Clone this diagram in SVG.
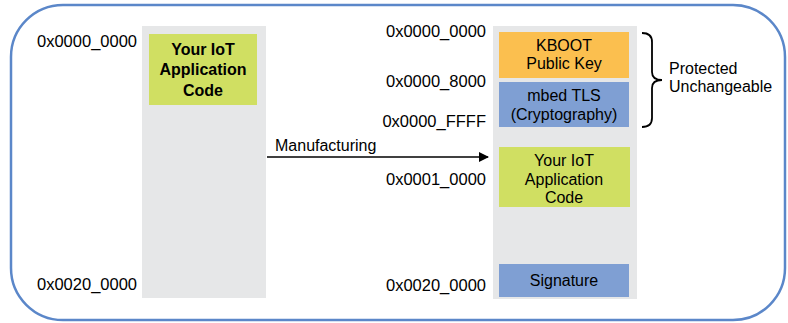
<svg xmlns="http://www.w3.org/2000/svg" width="788" height="323" viewBox="0 0 788 323">
<style>
text{font-family:"Liberation Sans",Arial,sans-serif;font-size:16px;fill:#000}
.b{font-weight:bold;font-size:16px}
.m{text-anchor:middle}
.e{text-anchor:end}
.h{font-size:16.5px}
.col{fill:#e6e7e8}
.green{fill:#d0df62}
.orange{fill:#fbbf4f}
.blue{fill:#7f9fd3}
</style>
<defs>
<marker id="arr" markerWidth="10" markerHeight="10" refX="9" refY="5" orient="auto" markerUnits="userSpaceOnUse">
<path d="M0,0 L10,5 L0,10 Z" fill="#000"/>
</marker>
</defs>
<rect x="11" y="5" width="774" height="315" rx="52" ry="52" fill="#fff" stroke="#5b87c9" stroke-width="2.5"/>
<g id="left-memory">
<rect class="col" x="142" y="26" width="124" height="272"/>
<text class="h" x="37" y="47">0x0000_0000</text>
<text class="h" x="37" y="290">0x0020_0000</text>
</g>
<g id="left-app">
<rect class="green" x="149" y="34" width="108" height="71"/>
<text class="b m" x="203" y="55">Your IoT</text>
<text class="b m" x="203" y="75">Application</text>
<text class="b m" x="203" y="96">Code</text>
</g>
<g id="right-memory">
<rect class="col" x="493" y="26" width="144" height="273"/>
<text class="e h" x="486" y="37">0x0000_0000</text>
<text class="e h" x="486" y="87">0x0000_8000</text>
<text class="e h" x="486" y="127">0x0000_FFFF</text>
<text class="e h" x="486" y="185">0x0001_0000</text>
<text class="e h" x="486" y="291">0x0020_0000</text>
</g>
<g id="kboot">
<rect class="orange" x="499" y="32" width="130" height="46"/>
<text class="m" x="564" y="51">KBOOT</text>
<text class="m" x="564" y="69">Public Key</text>
</g>
<g id="mbedtls">
<rect class="blue" x="499" y="82" width="130" height="45"/>
<text class="m" x="564" y="101">mbed TLS</text>
<text class="m" x="564" y="120">(Cryptography)</text>
</g>
<g id="right-app">
<rect class="green" x="499" y="147" width="131" height="60"/>
<text class="m" x="564" y="166">Your IoT</text>
<text class="m" x="564" y="185">Application</text>
<text class="m" x="564" y="203">Code</text>
</g>
<g id="signature">
<rect class="blue" x="499" y="264" width="130" height="33"/>
<text class="m" x="564" y="286">Signature</text>
</g>
<g id="protected">
<path d="M642,33 Q652,33 652,42 L652,72 Q652,80 662,80 Q652,80 652,88 L652,118 Q652,127 642,127" fill="none" stroke="#000" stroke-width="1.8"/>
<text x="669" y="74">Protected</text>
<text x="669" y="92">Unchangeable</text>
</g>
<g id="connectors">
<line x1="267" y1="157" x2="488" y2="157" stroke="#000" stroke-width="1.3" marker-end="url(#arr)"/>
<text x="275" y="151">Manufacturing</text>
</g>
</svg>
